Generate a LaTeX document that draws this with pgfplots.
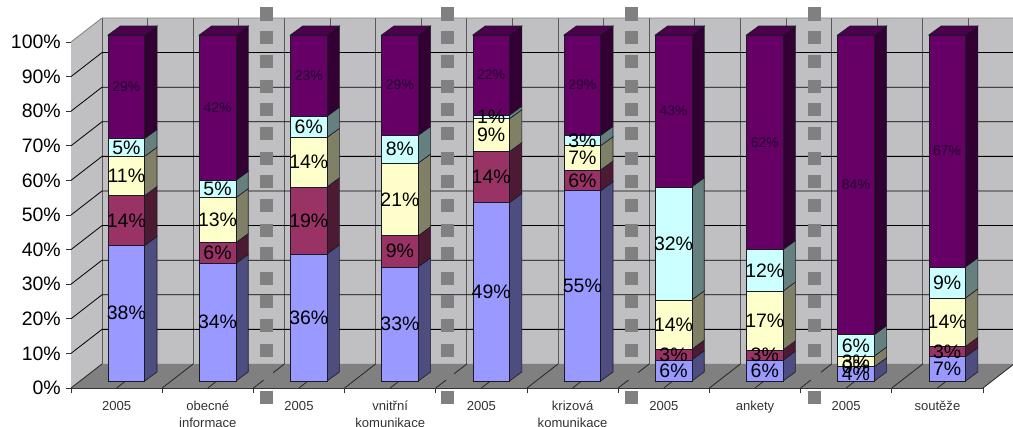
\documentclass[border=0pt]{standalone}
\usepackage{fontspec}
\setmainfont{Liberation Sans}
\usepackage{pgfplots}
\usepackage{pgfplotstable}
\pgfplotsset{compat=1.18}

\definecolor{wall}{HTML}{C0BFC2}
\definecolor{floorc}{HTML}{808080}
\definecolor{edgec}{HTML}{1A1A26}
\definecolor{toptext}{HTML}{1F0530}
\definecolor{sA}{HTML}{9999FF}\definecolor{dA}{HTML}{4D4D80}
\definecolor{sB}{HTML}{993366}\definecolor{dB}{HTML}{4D1A33}
\definecolor{sC}{HTML}{FFFFCC}\definecolor{dC}{HTML}{808066}
\definecolor{sD}{HTML}{CCFFFF}\definecolor{dD}{HTML}{668080}
\definecolor{sE}{HTML}{660066}\definecolor{dE}{HTML}{330033}
\definecolor{tE}{HTML}{4D004D}

% Answer shares for each group of two columns, bottom to top
\pgfplotstableread{
a b c d e
38 14 11 5 29
34 6 13 5 42
36 19 14 6 23
33 9 21 8 29
49 14 9 1 22
55 6 7 3 29
6 3 14 32 43
6 3 17 12 62
4 0 3 6 84
7 3 14 9 67
}\shares

% Heights of the separator squares between the survey topics
\pgfplotstableread{
y
108.09
101.16
94.22
87.28
80.35
73.41
66.47
59.54
52.60
45.66
38.73
31.79
24.86
17.92
10.98
4.05
-2.89
}\dashes

% Depth of one column, in axis units
\def\barDX{0.135}
\def\barDY{2.6}

\newcommand{\poly}[2]{%
  \edef\tmpcmd{\noexpand\addplot[#1] coordinates {#2} -- cycle;}\tmpcmd}
\newcommand{\segm}[2]{%
  \edef\tmpcmd{\noexpand\addplot[#1] coordinates {#2};}\tmpcmd}

% One stacked slice: front face and side face
\newcommand{\slice}[2]{%
  \pgfmathsetmacro{\hi}{\lo+#1*100/\tot}%
  \pgfmathsetmacro{\loB}{\lo+\barDY}%
  \pgfmathsetmacro{\hiB}{\hi+\barDY}%
  \poly{fill=d#2,draw=edgec,line width=0.45pt}{(\xr,\lo) (\xb,\loB) (\xb,\hiB) (\xr,\hi)}%
  \poly{fill=s#2,draw=edgec,line width=0.45pt}{(\xl,\lo) (\xr,\lo) (\xr,\hi) (\xl,\hi)}%
  \let\lo\hi}

% One value label in the middle of a slice
\newcommand{\slicelabel}[3]{%
  \pgfmathsetmacro{\hi}{\lo+#1*100/\tot}%
  \pgfmathsetmacro{\mid}{(\lo+\hi)/2}%
  \edef\tmpcmd{\noexpand\node[font=\noexpand\fontsize{#2}{16}\noexpand\selectfont,text=#3,inner sep=0pt] at (axis cs:\xm,\mid) {#1\noexpand\%};}\tmpcmd
  \let\lo\hi}

\newcommand{\fetchrow}[1]{%
  \pgfplotstablegetelem{#1}{a}\of\shares\let\va\pgfplotsretval
  \pgfplotstablegetelem{#1}{b}\of\shares\let\vb\pgfplotsretval
  \pgfplotstablegetelem{#1}{c}\of\shares\let\vc\pgfplotsretval
  \pgfplotstablegetelem{#1}{d}\of\shares\let\vd\pgfplotsretval
  \pgfplotstablegetelem{#1}{e}\of\shares\let\ve\pgfplotsretval
  \pgfmathsetmacro{\tot}{\va+\vb+\vc+\vd+\ve}%
  \pgfmathsetmacro{\xl}{#1+0.406}%
  \pgfmathsetmacro{\xr}{#1+0.808}%
  \pgfmathsetmacro{\xm}{#1+0.607}%
  \pgfmathsetmacro{\xb}{\xr+\barDX}%
  \def\lo{2.02}}

\begin{document}
\begin{tikzpicture}
\path[clip,use as bounding box] (0,0) rectangle (759.75pt,320.25pt);
\begin{axis}[
  at={(53.25pt,29.25pt)}, anchor=south west,
  scale only axis, width=684pt, height=259.5pt,
  xmin=0, xmax=10, ymin=0, ymax=100,
  clip=false, axis on top=false,
  axis x line=bottom, axis y line=left,
  axis line style={-,line width=0.6pt,color=black!80},
  tick style={color=black!80,line width=0.6pt},
  tick align=outside, major tick length=3.75pt,
  xtick={0,...,10}, x tick label as interval,
  xticklabels={2005,{obecné\\informace},2005,{vnitřní\\komunikace},2005,{krizová\\komunikace},2005,ankety,2005,soutěže},
  xticklabel style={align=center,font=\fontsize{9.8}{12.8}\selectfont,text=black!80,inner sep=0pt,yshift=-6pt},
  ytick={0,10,...,100},
  yticklabels={0\%,10\%,20\%,30\%,40\%,50\%,60\%,70\%,80\%,90\%,100\%},
  yticklabel style={font=\fontsize{14.6}{16}\selectfont,text=black,inner sep=0pt,xshift=-3.75pt},
]
% walls and floor of the chart box
\poly{fill=wall,draw=none}{(0.34,6.94) (10.34,6.94) (10.34,106.94) (0.34,106.94)}
\poly{fill=wall,draw=none}{(0,0) (0.34,6.94) (0.34,106.94) (0,100)}
\poly{fill=floorc,draw=none}{(0,0) (0.34,6.94) (10.34,6.94) (10,0)}

% gridlines on the walls
\pgfplotsforeachungrouped \k in {0,...,20} {
  \pgfmathsetmacro{\gx}{0.34+\k*0.5}
  \pgfmathsetmacro{\fx}{\k*0.5}
  \segm{draw=black!65,line width=0.6pt}{(\gx,6.94) (\gx,106.94)}
  \segm{draw=black!85,line width=0.6pt}{(\fx,0) (\gx,6.94)}
}
\pgfplotsforeachungrouped \k in {10,20,...,90} {
  \pgfmathsetmacro{\gy}{\k+6.94}
  \segm{draw=black,line width=0.6pt}{(0,\k) (0.34,\gy) (10.34,\gy)}
}
\segm{draw=black!50,line width=0.6pt}{(0,100) (0.34,106.94) (10.34,106.94)}

% columns
\pgfplotsforeachungrouped \r in {0,...,9} {
  \fetchrow{\r}
  \slice{\va}{A}
  \slice{\vb}{B}
  \slice{\vc}{C}
  \slice{\vd}{D}
  \slice{\ve}{E}
  \pgfmathsetmacro{\loB}{\lo+\barDY}
  \pgfmathsetmacro{\xlb}{\xl+\barDX}
  \poly{fill=tE,draw=edgec,line width=0.45pt}{(\xl,\lo) (\xr,\lo) (\xb,\loB) (\xlb,\loB)}
}

% separator squares
\addplot[only marks,draw=floorc,mark=square*,mark size=4.5pt,mark options={fill=floorc,draw=floorc,line width=0pt}] table[x expr=2.149,y=y] {\dashes};
\addplot[only marks,draw=floorc,mark=square*,mark size=4.5pt,mark options={fill=floorc,draw=floorc,line width=0pt}] table[x expr=4.123,y=y] {\dashes};
\addplot[only marks,draw=floorc,mark=square*,mark size=4.5pt,mark options={fill=floorc,draw=floorc,line width=0pt}] table[x expr=6.151,y=y] {\dashes};
\addplot[only marks,draw=floorc,mark=square*,mark size=4.5pt,mark options={fill=floorc,draw=floorc,line width=0pt}] table[x expr=8.147,y=y] {\dashes};

% value labels
\pgfplotsforeachungrouped \r in {0,...,9} {
  \fetchrow{\r}
  \slicelabel{\va}{14.6}{black}
  \slicelabel{\vb}{14.6}{black}
  \slicelabel{\vc}{14.6}{black}
  \slicelabel{\vd}{14.6}{black}
  \slicelabel{\ve}{10.5}{toptext}
}
\end{axis}
\end{tikzpicture}
\end{document}
